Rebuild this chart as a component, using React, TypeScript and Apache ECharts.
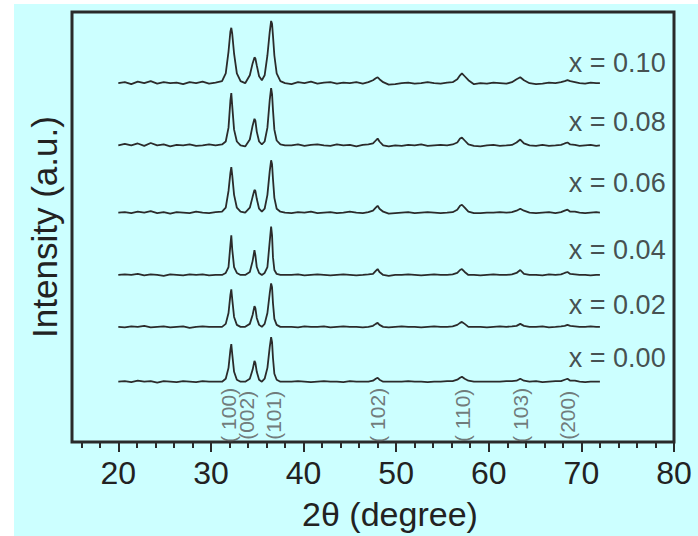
import React, { useEffect, useRef } from "react";
import * as echarts from "echarts";

// 2θ sampling (degrees), shared by all patterns
const THETA = [
  20, 20.7, 21.4, 22.1, 22.8, 23.5, 24.2, 24.9, 25.6, 26.3, 27, 27.7, 28.4, 29.1, 29.8, 30.5,
  31.2, 31.6, 31.9, 32.1, 32.2, 32.3, 32.5, 32.8, 33.2, 33.7, 34.2, 34.5, 34.7, 34.8, 34.95, 35.2, 35.5, 35.8, 36.1, 36.35, 36.5, 36.6, 36.7, 36.85, 37.1, 37.5, 38.0,
  38.7, 39.4, 40.1, 40.8, 41.5, 42.2, 42.9, 43.6, 44.3, 45, 45.7, 46.4, 47.0,
  47.5, 47.8, 48.0, 48.2, 48.6,
  49.2, 49.9, 50.6, 51.3, 52, 52.7, 53.4, 54.1, 54.8, 55.5, 56.1,
  56.6, 56.9, 57.1, 57.4, 57.8,
  58.4, 59.1, 59.8, 60.5, 61.2, 61.9, 62.5,
  63.0, 63.4, 63.8,
  64.4, 65.1, 65.8, 66.5, 67.2, 67.8,
  68.2, 68.5, 68.8,
  69.3, 69.8, 70.4, 71, 71.6, 72,
];

// Intensities relative to each pattern's own baseline (a.u.)
const I_000 = [
  0, 0.5, -0.5, 1, 0, 0.5, -1, 0.5, 0, -0.5, 0.5, 0, -0.5, 0.5, 0, 0,
  0, 3, 14, 32, 38, 28, 10, 2, 0, 0, 3, 12, 21, 19, 10, 2, 0, 3, 14, 35, 45, 40, 24, 8, 2, 0, 0,
  0, 0.5, 0, -0.5, 0, 0.5, 0, 0, -0.5, 0.5, 0, 0, 0,
  1, 3, 4, 2, 0,
  0, 0, 0, 0.5, 0, 0, -0.5, 0, 0, 0.5, 0.5,
  2, 4, 5, 3, 1,
  0, 0, 0, 0, 0, 0.5, 0.5,
  1, 3, 1,
  0, 0.5, -0.5, 0, 0.5, 0.5,
  2, 3, 1,
  1, 0, -0.5, 0, 0, 0,
];
const I_002 = [
  0, -0.5, 0.5, 0, 1, -0.5, 0, 0.5, -0.5, 0, 0.5, -1, 0, 0.5, 0, 0,
  0, 3, 14, 32, 38, 28, 10, 2, 0, 0, 3, 12, 21, 19, 9, 2, 0, 3, 14, 34, 44, 40, 24, 8, 2, 0, 0,
  0, -0.5, 0.5, 0, 0, 0.5, -0.5, 0, 0.5, 0, 0, -0.5, 0,
  1, 3, 4, 2, 0,
  -0.5, 0, 0.5, 0, 0, -0.5, 0, 0.5, 0, 0, 0.5,
  2, 4, 5, 3, 0,
  0, 0, -0.5, 0, 0.5, 0, 0.5,
  1, 3, 1,
  0, 0, 0.5, -0.5, 0, 0.5,
  1, 2, 1,
  0.5, 0, 0, 0.5, 0, 0,
];
const I_004 = [
  0, 0.5, 0, 1, -0.5, 0.5, 0, -1, 0.5, 0, -0.5, 0.5, 0, 0.5, -0.5, 0,
  0, 2, 8, 30, 40, 26, 8, 2, 0, 0, 3, 14, 25, 20, 8, 2, 0, 2, 8, 34, 49, 40, 18, 5, 1, 0, 0,
  0, 0.5, -0.5, 0, 0.5, 0, -0.5, 0, 0.5, 0, -0.5, 0, 0.5,
  1, 4, 6, 3, 0,
  -1, 0, 0, 0.5, 0, -0.5, 0, 0.5, 0, 0, 0.5,
  2, 5, 6, 3, 0,
  0, -0.5, 0, 0.5, 0, 0, 0.5,
  2, 5, 1,
  0, 0, -0.5, 0.5, 0, 0.5,
  2, 3, 1,
  0.5, 0, 0, -0.5, 0, 0,
];
const I_006 = [
  0, 0.5, -0.5, 1, 0, 1.5, -0.5, 0.5, -1, 0.5, 0, -0.5, 1, 0, -0.5, 0.5,
  1, 5, 22, 40, 46, 38, 18, 5, 1, 0, 5, 16, 23, 22, 14, 4, 1, 4, 18, 42, 53, 49, 34, 15, 4, 1, 0,
  -0.5, 0.5, 0, 1, -0.5, 0, 0.5, -0.5, 0, 1, 0, -0.5, 0.5,
  2, 5, 7, 4, 1,
  -1, -0.5, 0, 0.5, -0.5, 0, 0.5, 0, -0.5, 0, 0.5,
  3, 7, 8, 5, 1,
  -0.5, -0.5, 0, 0, 0.5, 0, 0.5,
  2, 4, 2,
  0, -0.5, 0, 0.5, -0.5, 0.5,
  2, 3, 1,
  1, 0, -0.5, 0, 0.5, 0,
];
const I_008 = [
  0, 1.5, 0, 2, -0.5, 2.5, 0, 1, -1, 0.5, 0, 1, -0.5, 0, 1, 0,
  1, 4, 18, 45, 53, 40, 16, 4, 0, -1, 6, 20, 27, 25, 14, 4, 1, 4, 18, 46, 58, 52, 36, 16, 5, 1, 0,
  0, 1, -0.5, 0.5, 1, 0, -0.5, 1, 0, 0.5, -1, 0.5, 1,
  2, 5, 7, 4, 0,
  -1, 0, -0.5, 0.5, 0, 1, -0.5, 0, 0.5, 0, 1,
  3, 7, 8, 5, 1,
  -0.5, -1, 0, 0.5, -0.5, 0, 0.5,
  3, 6, 2,
  0, -0.5, 0.5, -0.5, 0, 0.5,
  2, 3, 1,
  0.5, -0.5, 0, 0.5, -0.5, 0,
];
const I_010 = [
  0, 1, -1, 1.5, 0, 2, -0.5, 1, 0, 0.5, -1, 1, 0, 1.5, -0.5, 0.5,
  2, 10, 32, 52, 56, 50, 30, 10, 2, 0, 8, 20, 26, 25, 18, 7, 3, 8, 28, 52, 63, 60, 48, 28, 10, 2, 0,
  -1, 1, 0, 1.5, -0.5, 0.5, 1, -0.5, 0.5, 0, 1, -0.5, 1,
  3, 5, 6, 4, 1,
  -1.5, -1, 0, 0.5, -0.5, 0, 1, 0, -0.5, 0.5, 1,
  4, 8, 10, 7, 3,
  -1, 0, -0.5, 0.5, 0, -0.5, 1,
  4, 6, 3,
  0, -1, -0.5, 0.5, 0, 1,
  2, 3, 2,
  1, 0, -0.5, 0.5, 0, 0,
];

const PATTERNS = [I_000, I_002, I_004, I_006, I_008, I_010];
const OFFSETS = [61, 116.5, 169, 232, 300, 363];
const SAMPLE_LABELS = ["x = 0.00", "x = 0.02", "x = 0.04", "x = 0.06", "x = 0.08", "x = 0.10"];
const SAMPLE_LABEL_Y = [85, 139, 194, 262, 324, 383];
const SAMPLE_LABEL_X = 79.1;

const PEAK_LABELS = ["( 100)", "(002)", "(101)", "( 102)", "( 110)", "( 103)", "(200)"];
const PEAK_LABEL_X = [31.9, 33.85, 36.75, 48.0, 57.15, 63.4, 68.55];
const PEAK_LABEL_Y = 27;

const MAJOR_TICKS = [20, 30, 40, 50, 60, 70, 80];
const MINOR_TICKS = [16, 18, 22, 24, 26, 28, 32, 34, 36, 38, 42, 44, 46, 48, 52, 54, 56, 58, 62, 64, 66, 68, 72, 74, 76, 78];

const FONT = "'Liberation Sans', Arial, sans-serif";
const INK = "#2b2b2b";
const FRAME = "#2a2a2a";

const GRID = { left: 72, top: 12, right: 24, bottom: 89 };
const W = 698;
const H = 536;

export default function App() {
  const ref = useRef<HTMLDivElement>(null);

  useEffect(() => {
    if (!ref.current) return;
    const chart = echarts.init(ref.current, undefined, { renderer: "svg" });

    const lineSeries = PATTERNS.map((ys, k) => ({
      type: "line",
      name: SAMPLE_LABELS[k],
      data: THETA.map((t, i) => [t, ys[i] + OFFSETS[k]]),
      showSymbol: false,
      symbol: "none",
      lineStyle: { color: INK, width: 1.8 },
      z: 3,
    }));

    const option = {
      animation: false,
      backgroundColor: "transparent",
      grid: { ...GRID, show: true, borderColor: FRAME, borderWidth: 3, backgroundColor: "rgba(0,0,0,0)" },
      xAxis: [
        {
          type: "value",
          min: 15,
          max: 80,
          position: "bottom",
          axisLine: { show: false },
          axisTick: {
            show: true,
            customValues: MAJOR_TICKS,
            length: 10,
            inside: false,
            lineStyle: { color: FRAME, width: 2 },
          },
          axisLabel: {
            show: true,
            customValues: MAJOR_TICKS,
            margin: 15,
            fontSize: 32,
            fontFamily: FONT,
            color: "#222",
          },
          splitLine: { show: false },
          name: "2θ (degree)",
          nameLocation: "middle",
          nameGap: 55,
          nameTextStyle: {
            fontSize: 34,
            fontFamily: FONT,
            color: "#222",
            padding: [0, 0, 0, 34],
          },
        },
        {
          type: "value",
          min: 15,
          max: 80,
          position: "bottom",
          axisLine: { show: false },
          axisTick: {
            show: true,
            customValues: MINOR_TICKS,
            length: 6,
            inside: false,
            lineStyle: { color: FRAME, width: 2 },
          },
          axisLabel: { show: false },
          splitLine: { show: false },
        },
      ],
      yAxis: {
        type: "value",
        min: 0,
        max: 435,
        axisLine: { show: false },
        axisTick: { show: false },
        axisLabel: { show: false },
        splitLine: { show: false },
        name: "Intensity (a.u.)",
        nameLocation: "middle",
        nameGap: 10,
        nameTextStyle: { fontSize: 35, fontFamily: FONT, color: "#222" },
      },
      series: [
        ...lineSeries,
        {
          type: "scatter",
          name: "sample labels",
          data: SAMPLE_LABELS.map((s, k) => ({ value: [SAMPLE_LABEL_X, SAMPLE_LABEL_Y[k]], name: s })),
          symbolSize: 0,
          silent: true,
          z: 4,
          label: {
            show: true,
            position: "inside",
            align: "right",
            verticalAlign: "middle",
            formatter: (p: any) => p.name,
            fontSize: 27,
            fontFamily: FONT,
            color: "#222",
          },
        },
        {
          type: "scatter",
          name: "peak labels",
          data: PEAK_LABELS.map((s, k) => ({ value: [PEAK_LABEL_X[k], PEAK_LABEL_Y], name: s })),
          symbolSize: 0,
          silent: true,
          z: 4,
          label: {
            show: true,
            position: "inside",
            align: "center",
            verticalAlign: "middle",
            rotate: 90,
            formatter: (p: any) => p.name,
            fontSize: 21,
            fontFamily: FONT,
            color: "#585858",
          },
        },
      ],
    };

    chart.setOption(option as any);
    return () => chart.dispose();
  }, []);

  return (
    <div style={{ position: "fixed", left: 0, top: 0, width: W, height: H, background: "#fff" }}>
      <div
        style={{ position: "absolute", left: 14, top: 4, width: W - 14, height: H - 4, background: "#ccffff" }}
      />
      <div ref={ref} style={{ position: "absolute", left: 0, top: 0, width: W, height: H }} />
    </div>
  );
}
